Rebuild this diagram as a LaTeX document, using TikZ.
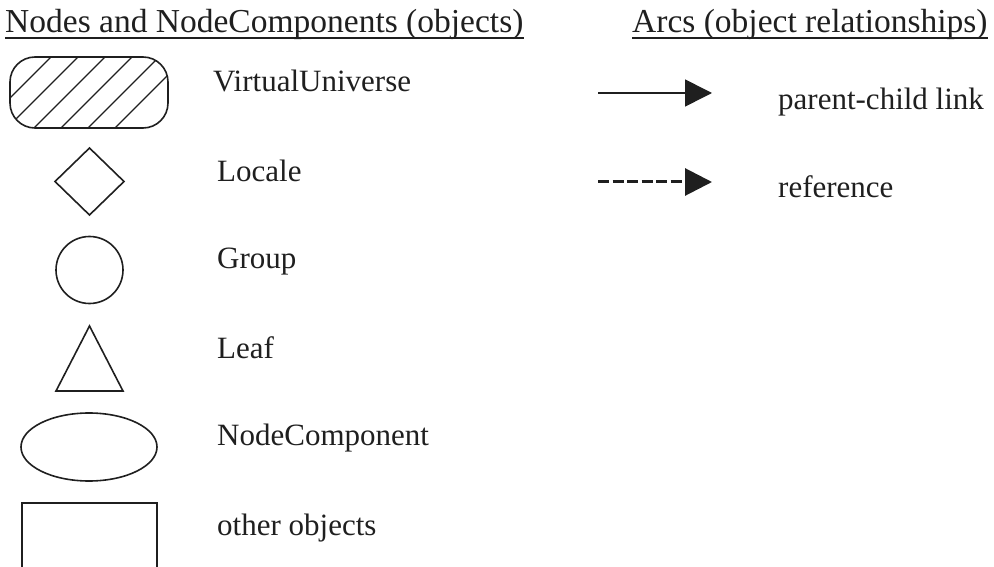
\documentclass[tikz,border=0pt]{standalone}
\usepackage{fontspec}
\setmainfont{Liberation Serif}
\usetikzlibrary{arrows.meta,calc}

\definecolor{ink}{gray}{0.12}

\tikzset{
  shapeline/.style={draw=ink, line width=1.6pt},
  label/.style={anchor=base west, inner sep=0pt, text=ink,
                font=\fontsize{31}{36}\selectfont},
  heading/.style={anchor=base west, inner sep=0pt, text=ink,
                  font=\fontsize{33.5}{40}\selectfont},
  underline/.style={draw=ink, line width=2pt},
  arc/.style={draw=ink, line width=1.6pt,
              -{Triangle[length=27pt,width=27pt]}},
}

\begin{document}
\begin{tikzpicture}[x=1pt, y=-1pt]
\useasboundingbox (0,0) rectangle (994,567);

% column headings
\node[heading] (hnodes) at (5,33) {Nodes and NodeComponents (objects)};
\node[heading] (harcs) at (632,33) {Arcs (object relationships)};
\draw[underline] ([yshift=-5.5pt]hnodes.base west) -- ([yshift=-5.5pt]hnodes.base east);
\draw[underline] ([yshift=-5.5pt]harcs.base west) -- ([yshift=-5.5pt]harcs.base east);

% VirtualUniverse: hatched rounded box
\begin{scope}
  \clip[rounded corners=25pt] (10,57) rectangle (168,128);
  \foreach \c in {108,135,...,243}
    \draw[ink, line width=1.3pt] (\c-128,128) -- (\c-57,57);
\end{scope}
\draw[shapeline, rounded corners=25pt] (10,57) rectangle (168,128);
\node[label] (lvu) at (213,92) {VirtualUniverse};

% Locale: diamond
\draw[shapeline] (89.5,148) -- (124,181.5) -- (89.5,215) -- (55,181.5) -- cycle;
\node[label] (lloc) at (217,182) {Locale};

% Group: circle
\draw[shapeline] (89.5,270) circle[radius=33.5];
\node[label] (lgrp) at (217,268) {Group};

% Leaf: triangle
\draw[shapeline] (89.5,326) -- (123,391) -- (56,391) -- cycle;
\node[label] (lleaf) at (217,358) {Leaf};

% NodeComponent: ellipse
\draw[shapeline] (89,447) ellipse[x radius=68, y radius=34];
\node[label] (lnc) at (217,445) {NodeComponent};

% other objects: box running past the lower edge
\draw[shapeline] (22,580) -- (22,503) -- (157,503) -- (157,580);
\node[label] (loth) at (217,535) {other objects};

% arc legend
\coordinate (pcfrom) at (598,93);
\coordinate (pcto) at (712,93);
\coordinate (reffrom) at (598,182);
\coordinate (refto) at (712,182);
\draw[arc] (pcfrom) -- (pcto);
\draw[arc, line width=3pt, dash pattern=on 11pt off 3.5pt] (reffrom) -- (refto);
\node[label] (lpc) at (778,110) {parent-child link};
\node[label] (lref) at (778,197) {reference};
\end{tikzpicture}
\end{document}
